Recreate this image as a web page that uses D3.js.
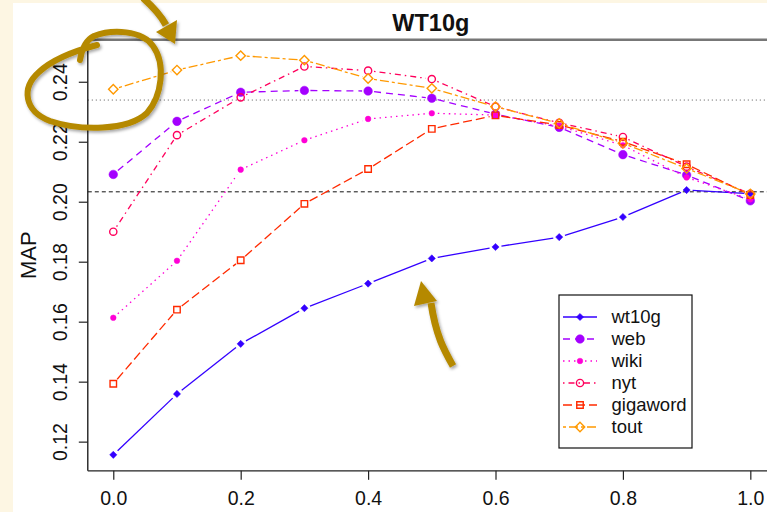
<!DOCTYPE html>
<html lang="en">

<head>
	<meta charset="utf-8">
	<title> WT10g </title>
	<script src="https://d3js.org/d3.v7.min.js"></script>
	<style type="text/css">
		body{
			margin: 0;
			background: #fdf6e3;
		}
		svg{
			display: block;
			font-family: "Liberation Sans", Arial, Helvetica, sans-serif;
		}
		.axis text{
			font-size: 19.5px;
			fill: #111;
		}
	</style>
</head>

<body>
	<script type="text/javascript">
	// data
	var lambdas = [0.0, 0.1, 0.2, 0.3, 0.4, 0.5, 0.6, 0.7, 0.8, 0.9, 1.0]
	var wt10g    = [0.1156, 0.1359, 0.1526, 0.1645, 0.1727, 0.1811, 0.1849, 0.1882, 0.1949, 0.2039, 0.2027]
	var web      = [0.2091, 0.2268, 0.2365, 0.2371, 0.2369, 0.2345, 0.2292, 0.2248, 0.2157, 0.2089, 0.2003]
	var wiki     = [0.1613, 0.1803, 0.2107, 0.2205, 0.2276, 0.2295, 0.2289, 0.2252, 0.2188, 0.2081, 0.2008]
	var nyt      = [0.1900, 0.2222, 0.2348, 0.2451, 0.2437, 0.2409, 0.2317, 0.2263, 0.2216, 0.2117, 0.2026]
	var gigaword = [0.1393, 0.1640, 0.1805, 0.1993, 0.2109, 0.2243, 0.2288, 0.2256, 0.2200, 0.2125, 0.2022]
	var tout     = [0.2375, 0.2439, 0.2487, 0.2472, 0.2411, 0.2378, 0.2317, 0.2261, 0.2195, 0.2111, 0.2026]

	var seriesNames = ["wt10g", "web", "wiki", "nyt", "gigaword", "tout"]
	var seriesValues = [wt10g, web, wiki, nyt, gigaword, tout]

	// horizontal reference lines
	var refDotted = 0.2339
	var refDashed = 0.2033

	var xTicks = [0.0, 0.2, 0.4, 0.6, 0.8, 1.0]
	var yTicks = [0.12, 0.14, 0.16, 0.18, 0.20, 0.22, 0.24]

	// styles per series (R like lty / pch)
	var colors = ["#3300ff", "#a400ff", "#ff00d6", "#ff005c", "#ff2a00", "#ff9900"]
	var dashes = [null, "7,5", "1.5,4", "1.5,4,6,4", "9,4", "3,3,9,3"]
	var shapes = ["diamondFill", "circleBig", "circleSmall", "circleOpen", "squareOpen", "diamondOpen"]

	// window size
	var w = 767
	var h = 512

	// plot region (pixels)  -- "top" is taken by window.top, so prefix
	var pLeft = 87.8, pRight = 775.8, pTop = 39.7, pBottom = 470.8

	// scales, R style 4% padding
	var allVals = d3.merge(seriesValues)
	var yExt = d3.extent(allVals)
	var yPad = (yExt[1] - yExt[0]) * 0.04
	var xExt = d3.extent(lambdas)
	var xPad = (xExt[1] - xExt[0]) * 0.04

	var xScale = d3.scaleLinear().domain([xExt[0] - xPad, xExt[1] + xPad]).range([pLeft, pRight])
	var yScale = d3.scaleLinear().domain([yExt[0] - yPad, yExt[1] + yPad]).range([pBottom, pTop])

	// svg
	var svg = d3.select("body")
				.append("svg")
				.attr("width", w)
				.attr("height", h)

	var defs = svg.append("defs")
	defs.append("filter")
		.attr("id", "shadow")
		.attr("x", "-20%").attr("y", "-20%")
		.attr("width", "140%").attr("height", "140%")
		.append("feDropShadow")
		.attr("dx", 1.5).attr("dy", 2)
		.attr("stdDeviation", 1.5)
		.attr("flood-color", "#000")
		.attr("flood-opacity", 0.35)

	// white panel on the cream page
	svg.append("rect")
		.attr("x", 13).attr("y", 3)
		.attr("width", w - 13).attr("height", h - 3)
		.attr("fill", "#ffffff")

	// reference lines
	svg.append("line")
		.attr("x1", pLeft).attr("x2", pRight)
		.attr("y1", yScale(refDotted)).attr("y2", yScale(refDotted))
		.attr("stroke", "#555").attr("stroke-width", 1)
		.style("stroke-dasharray", "1,3")
	svg.append("line")
		.attr("x1", pLeft).attr("x2", pRight)
		.attr("y1", yScale(refDashed)).attr("y2", yScale(refDashed))
		.attr("stroke", "#111").attr("stroke-width", 1)
		.style("stroke-dasharray", "4,3")

	// box (left, bottom dark; top grey)
	svg.append("line")
		.attr("x1", pLeft).attr("x2", pRight).attr("y1", pTop).attr("y2", pTop)
		.attr("stroke", "#777").attr("stroke-width", 2.5)
	svg.append("line")
		.attr("x1", pLeft).attr("x2", pLeft).attr("y1", pTop).attr("y2", pBottom)
		.attr("stroke", "#111").attr("stroke-width", 1.3)
	svg.append("line")
		.attr("x1", pLeft).attr("x2", pRight).attr("y1", pBottom).attr("y2", pBottom)
		.attr("stroke", "#222").attr("stroke-width", 1.3)

	// axes
	var xAxis = d3.axisBottom(xScale).tickValues(xTicks).tickSize(9).tickFormat(d3.format(".1f"))
	var yAxis = d3.axisLeft(yScale).tickValues(yTicks).tickSize(9).tickFormat(d3.format(".2f"))

	var gx = svg.append("g")
		.attr("class", "axis")
		.attr("transform", "translate(0," + pBottom + ")")
		.call(xAxis)
	gx.select(".domain").remove()
	gx.selectAll(".tick line").attr("stroke", "#222").attr("stroke-width", 1.2)
	gx.selectAll("text")
		.attr("y", 27.5)
		.attr("dy", "0.35em")

	var gy = svg.append("g")
		.attr("class", "axis")
		.attr("transform", "translate(" + pLeft + ",0)")
		.call(yAxis)
	gy.select(".domain").remove()
	gy.selectAll(".tick line").attr("stroke", "#222").attr("stroke-width", 1.2)
	gy.selectAll("text")
		.attr("x", 0)
		.attr("dy", "0.35em")
		.attr("text-anchor", "middle")
		.attr("transform", "translate(-28,0) rotate(-90)")

	// y label
	svg.append("text")
		.attr("transform", "translate(28," + ((pTop + pBottom) / 2) + ") rotate(-90)")
		.attr("dy", "0.35em")
		.attr("text-anchor", "middle")
		.style("font-size", "22px")
		.attr("fill", "#111")
		.text("MAP")

	// title
	svg.append("text")
		.attr("x", (pLeft + pRight) / 2 - 1)
		.attr("y", 30.5)
		.attr("text-anchor", "middle")
		.style("font-size", "23.5px")
		.style("font-weight", "bold")
		.attr("fill", "#111")
		.text("WT10g")

	// marker drawing, R pch lookalikes
	function drawMarker(g, shape, cx, cy, color) {
		var sym, fill = "none", rot = 0
		if (shape == "diamondFill") { sym = d3.symbol(d3.symbolSquare, 26); fill = color; rot = 45 }
		if (shape == "circleBig") { sym = d3.symbol(d3.symbolCircle, 58); fill = color }
		if (shape == "circleSmall") { sym = d3.symbol(d3.symbolCircle, 25); fill = color }
		if (shape == "circleOpen") { sym = d3.symbol(d3.symbolCircle, 41) }
		if (shape == "squareOpen") { sym = d3.symbol(d3.symbolSquare, 42) }
		if (shape == "diamondOpen") { sym = d3.symbol(d3.symbolSquare, 44); rot = 45 }
		g.append("path")
			.attr("d", sym())
			.attr("transform", "translate(" + cx + "," + cy + ") rotate(" + rot + ")")
			.attr("fill", fill)
			.attr("stroke", color)
			.attr("stroke-width", fill == "none" ? 1.4 : 0.5)
	}

	// lines type "b": segments with small gaps around the points
	var gap = 6
	seriesValues.forEach(function(vals, s) {
		var g = svg.append("g").attr("class", "series-" + seriesNames[s])
		for (var i = 0; i < vals.length - 1; i++) {
			var x1 = xScale(lambdas[i]), y1 = yScale(vals[i])
			var x2 = xScale(lambdas[i + 1]), y2 = yScale(vals[i + 1])
			var len = Math.sqrt((x2 - x1) * (x2 - x1) + (y2 - y1) * (y2 - y1))
			if (len <= 2 * gap) continue
			var ux = (x2 - x1) / len, uy = (y2 - y1) / len
			g.append("line")
				.attr("x1", x1 + ux * gap).attr("y1", y1 + uy * gap)
				.attr("x2", x2 - ux * gap).attr("y2", y2 - uy * gap)
				.attr("stroke", colors[s])
				.attr("stroke-width", 1.3)
				.style("stroke-dasharray", dashes[s])
		}
		vals.forEach(function(v, i) {
			drawMarker(g, shapes[s], xScale(lambdas[i]), yScale(v), colors[s])
		})
	})

	// legend
	var legend = svg.append("g").attr("class", "legend")
	legend.append("rect")
		.attr("x", 559).attr("y", 295)
		.attr("width", 133).attr("height", 153)
		.attr("fill", "#fff")
		.attr("stroke", "#111")
		.attr("stroke-width", 1.2)
	seriesNames.forEach(function(name, s) {
		var ly = 317 + s * 22
		legend.append("line")
			.attr("x1", 563).attr("x2", 597)
			.attr("y1", ly).attr("y2", ly)
			.attr("stroke", colors[s])
			.attr("stroke-width", 1.3)
			.style("stroke-dasharray", dashes[s])
		drawMarker(legend, shapes[s], 580, ly, colors[s])
		legend.append("text")
			.attr("x", 611.5)
			.attr("y", ly)
			.attr("dy", "0.35em")
			.style("font-size", "18.5px")
			.attr("fill", "#111")
			.text(name)
	})

	// hand drawn annotations (loop + two arrows)
	var gold = "#b58900"
	var ann = svg.append("g").attr("filter", "url(#shadow)")
	ann.append("path")
		.attr("d", "M80,60 C82,48 86,40 94,36 C112,29 142,30 153,46 C166,64 162,96 147,113 C128,131 80,131 50,121 C24,111 21,88 39,72 C54,58 78,50 97,45")
		.attr("fill", "none").attr("stroke", gold)
		.attr("stroke-width", 6).attr("stroke-linecap", "round")
	ann.append("path")
		.attr("d", "M143,-2 C152,6 160,14 166,25")
		.attr("fill", "none").attr("stroke", gold)
		.attr("stroke-width", 7)
	ann.append("path")
		.attr("d", "M156,32 L177,20 L175,44 Z")
		.attr("fill", gold)
	ann.append("path")
		.attr("d", "M453,366 C444,350 436,336 431,303")
		.attr("fill", "none").attr("stroke", gold)
		.attr("stroke-width", 7)
	ann.append("path")
		.attr("d", "M414,306 L421,281 L437,301 Z")
		.attr("fill", gold)

	</script>
</body>
</html>
